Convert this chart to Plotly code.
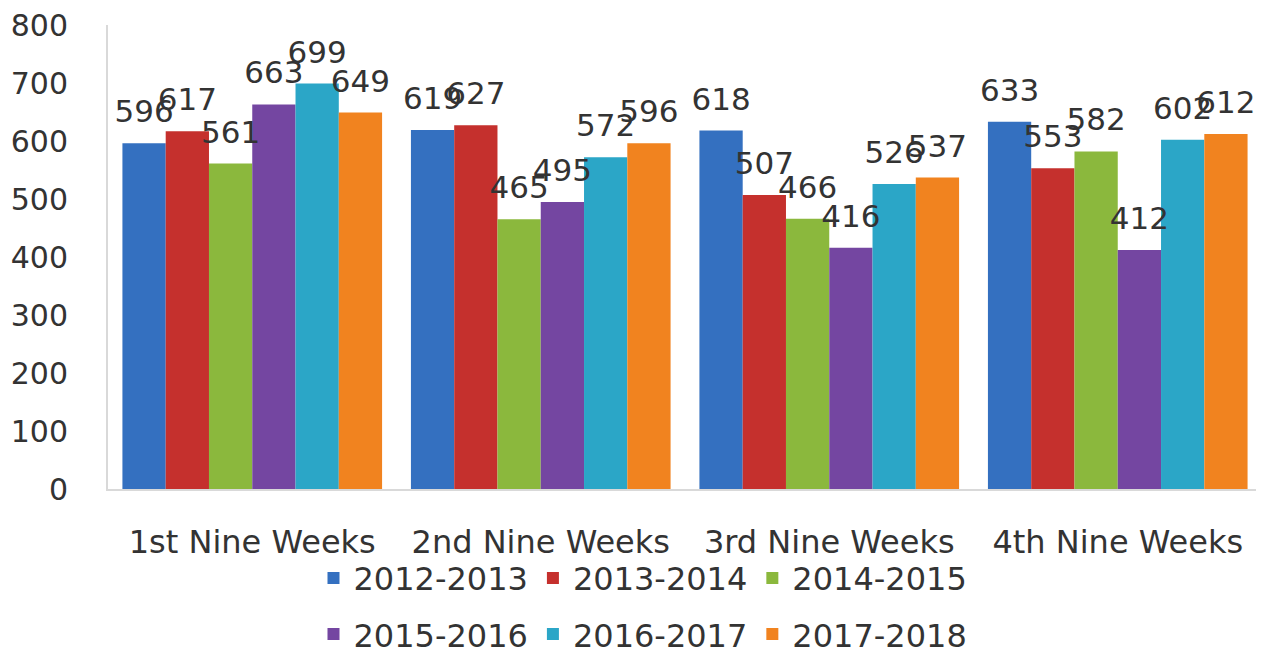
import plotly.graph_objects as go

categories = ["1st Nine Weeks", "2nd Nine Weeks", "3rd Nine Weeks", "4th Nine Weeks"]
series_names = ["2012-2013", "2013-2014", "2014-2015", "2015-2016", "2016-2017", "2017-2018"]
v2012 = [596, 619, 618, 633]
v2013 = [617, 627, 507, 553]
v2014 = [561, 465, 466, 582]
v2015 = [663, 495, 416, 412]
v2016 = [699, 572, 526, 602]
v2017 = [649, 596, 537, 612]
values = [v2012, v2013, v2014, v2015, v2016, v2017]
colors = ["#3470C0", "#C5302D", "#8BB83D", "#7446A1", "#2BA6C7", "#F1831F"]

FONT = "DejaVu Sans"
TXT = "#333333"
LABEL_LIFT = 19  # label offset above bar, in axis units (style only)

fig = go.Figure()
for i, (name, vals, col) in enumerate(zip(series_names, values, colors)):
    fig.add_trace(go.Bar(
        name=name, x=categories, y=vals, offsetgroup=str(i),
        marker=dict(color=col, line=dict(width=0)),
        legend="legend" if i < 3 else "legend2",
        hoverinfo="x+y+name",
    ))
# data labels: transparent copies on an overlaid axis shifted slightly upward
for i, (name, vals) in enumerate(zip(series_names, values)):
    fig.add_trace(go.Bar(
        name=name, x=categories, y=vals, yaxis="y2", offsetgroup=str(i),
        marker=dict(color="rgba(0,0,0,0)", line=dict(width=0)),
        text=[str(v) for v in vals], textposition="outside",
        textfont=dict(size=31, color=TXT, family=FONT),
        constraintext="none", cliponaxis=False,
        showlegend=False, hoverinfo="skip",
    ))

leg_common = dict(orientation="h", x=0.4636, xanchor="center", yanchor="middle",
                  font=dict(size=32, color=TXT, family=FONT), itemwidth=30,
                  tracegroupgap=0, bgcolor="rgba(0,0,0,0)")
fig.update_layout(
    width=1256, height=646,
    margin=dict(l=100, r=2, t=17, b=165, autoexpand=False),
    plot_bgcolor="white", paper_bgcolor="white",
    barmode="group", bargap=0.1, bargroupgap=0,
    font=dict(family=FONT, size=31, color=TXT),
    showlegend=True,
    legend=dict(y=-0.192, **leg_common),
    legend2=dict(y=-0.313, **leg_common),
    yaxis2=dict(overlaying="y", range=[-LABEL_LIFT, 800 - LABEL_LIFT], visible=False,
                showgrid=False, zeroline=False),
)
fig.update_xaxes(showline=True, linecolor="#d9d9d9", linewidth=2, showgrid=False,
                 tickfont=dict(size=32), ticks="", ticklabelstandoff=24)
fig.layout.yaxis.update(range=[0, 800], dtick=100, showline=True, linecolor="#d9d9d9",
                        linewidth=2, showgrid=False, zeroline=False, ticks="",
                        ticklabelstandoff=32, tickfont=dict(size=30),
                        ticklabeloverflow="allow")

fig.write_html("out.html")
